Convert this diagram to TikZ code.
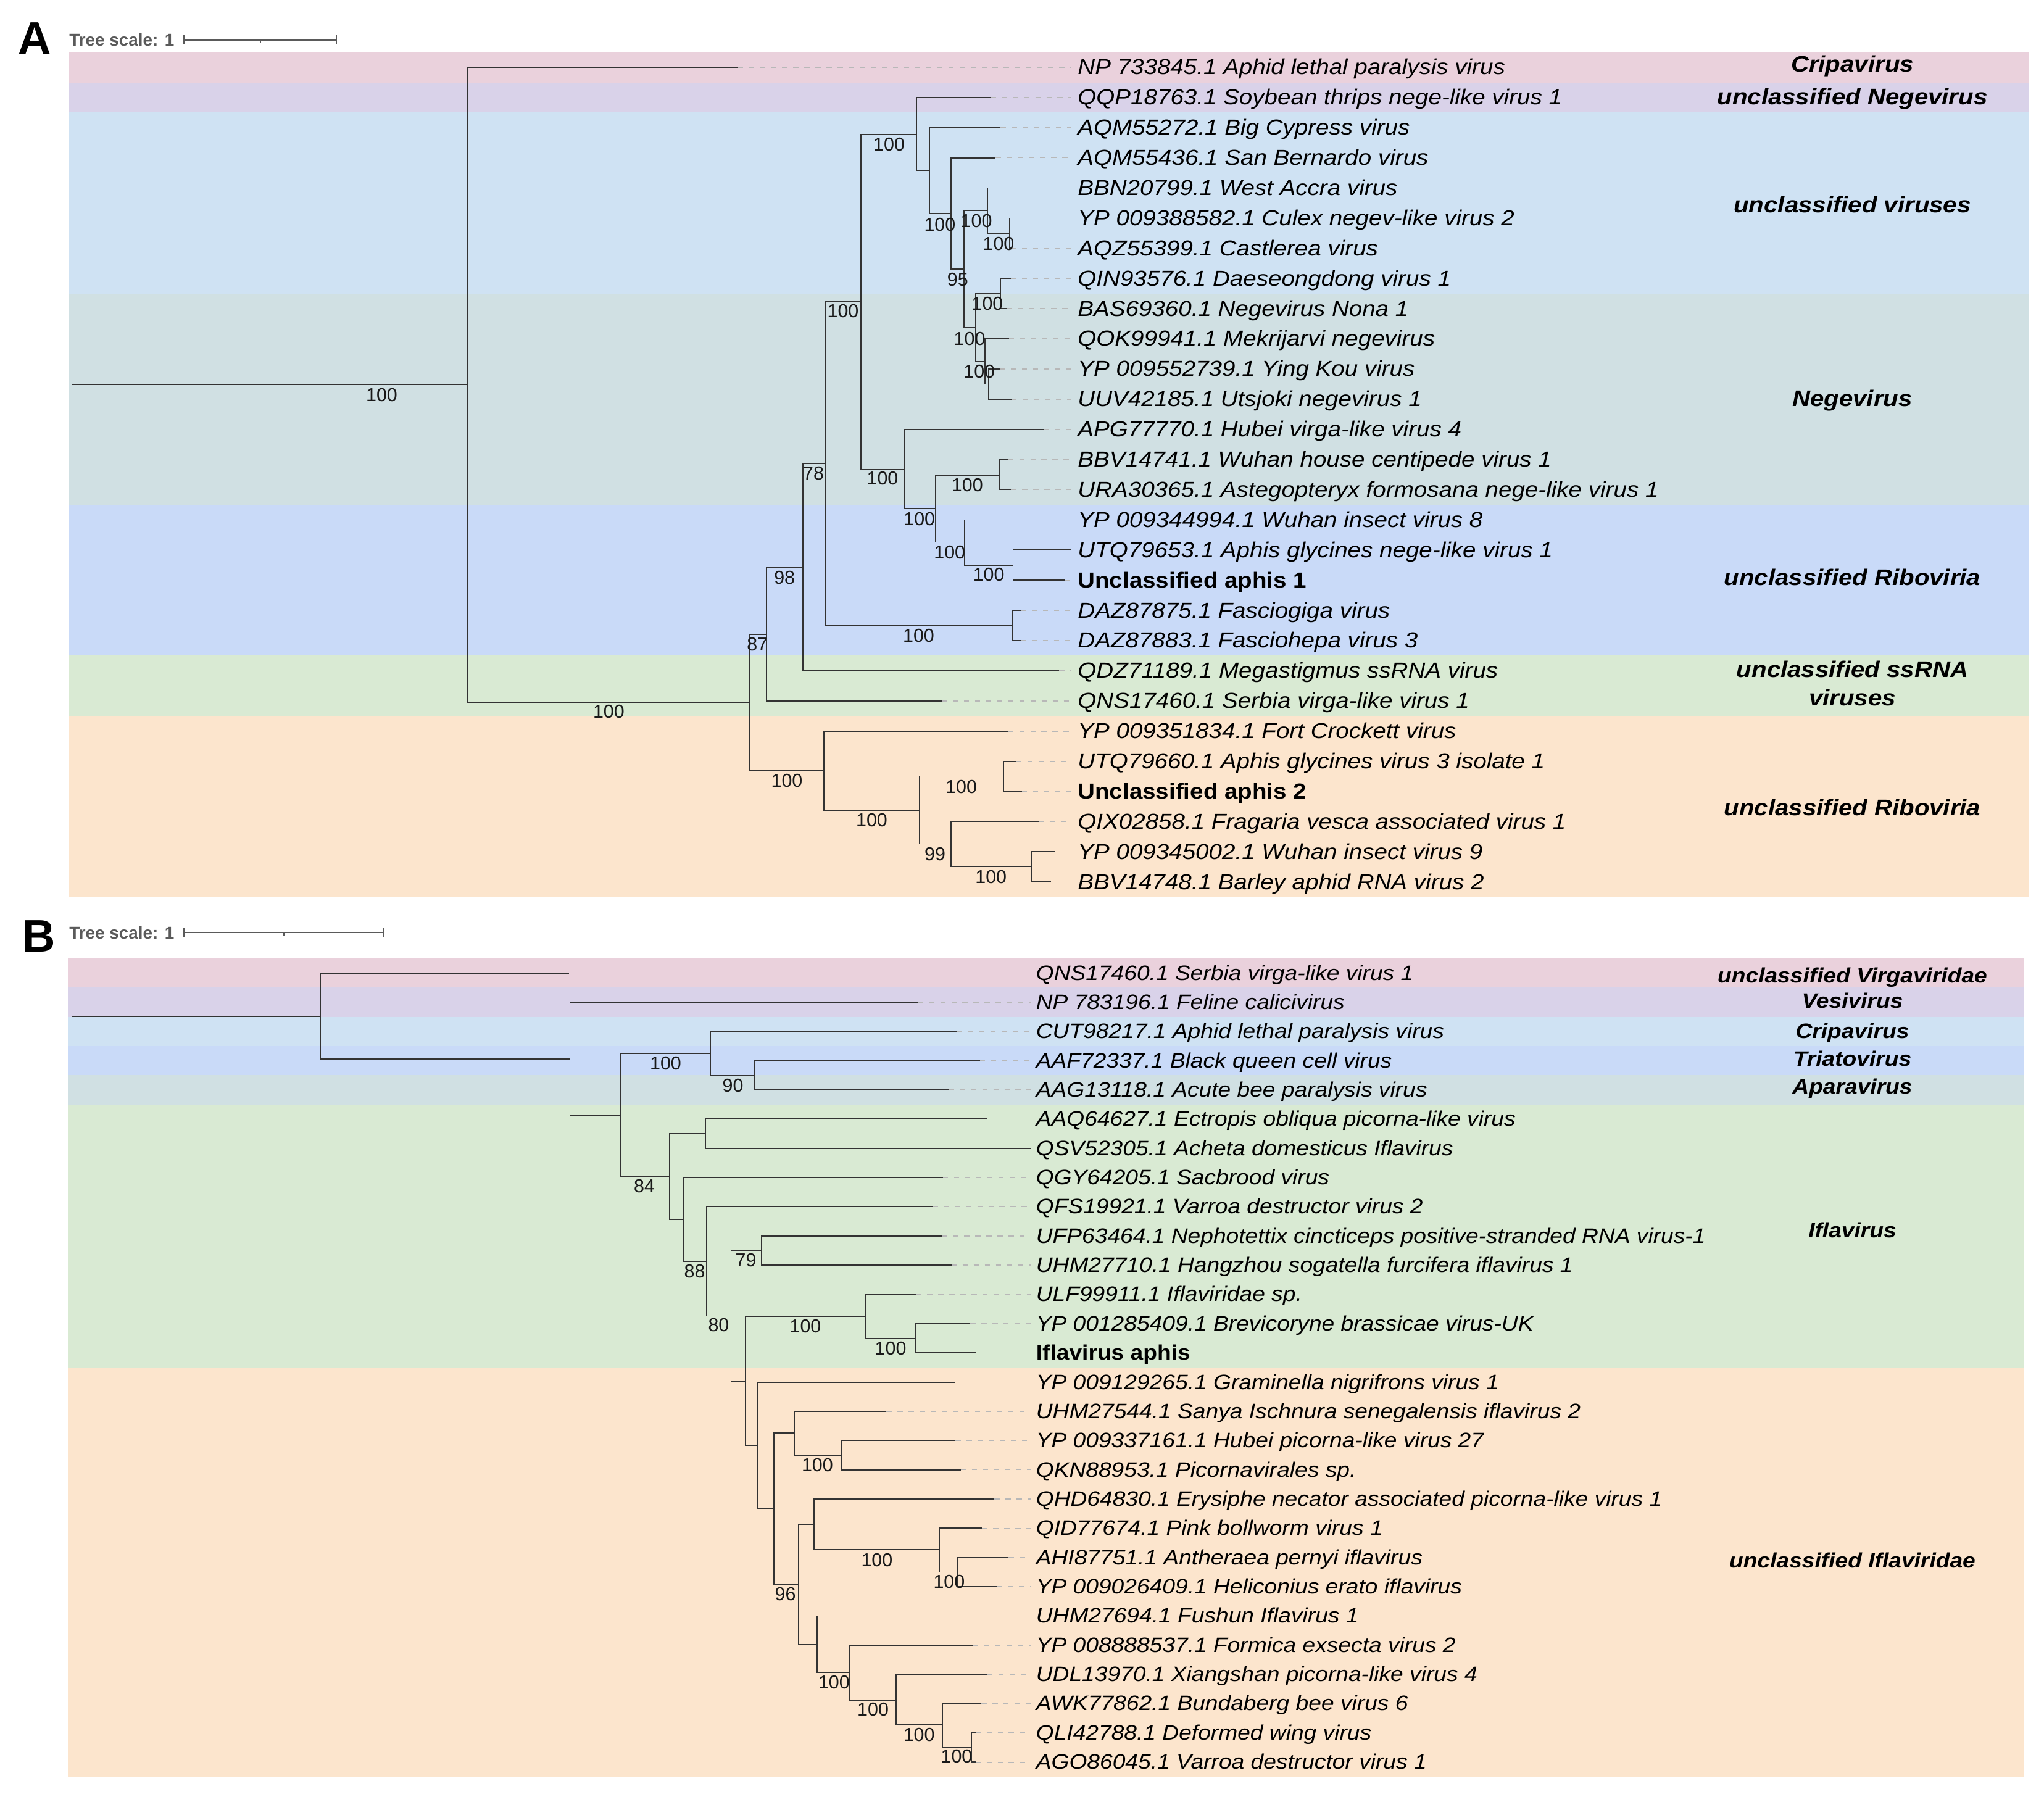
\documentclass[tikz,border=0pt]{standalone}
\usepackage{fontspec}
\setmainfont{Liberation Sans}
\newfontfamily\stretchfont[FakeStretch=1.1]{Liberation Sans}
\definecolor{bPink}{HTML}{EAD1DC}
\definecolor{bLav}{HTML}{D9D2E9}
\definecolor{bLBlue}{HTML}{CFE2F3}
\definecolor{bCyan}{HTML}{D0E0E3}
\definecolor{bCorn}{HTML}{C9DAF8}
\definecolor{bGreen}{HTML}{D9EAD3}
\definecolor{bPeach}{HTML}{FCE5CD}
\definecolor{treeline}{HTML}{333333}
\definecolor{leadergray}{HTML}{B8B8B8}
\definecolor{scalegray}{HTML}{5A5A5A}
\tikzset{
  branch/.style={draw=treeline, line width=0.85pt, line join=miter},
  leader/.style={draw=leadergray, line width=0.7pt, dash pattern=on 4pt off 4.5pt},
  leafA/.style={anchor=base west, inner sep=0pt, text=black, font=\stretchfont\itshape\fontsize{16.6}{18}\selectfont},
  leafB/.style={anchor=base west, inner sep=0pt, text=black, font=\stretchfont\itshape\fontsize{16}{18}\selectfont},
  cladeA/.style={anchor=base, inner sep=0pt, text=black, font=\stretchfont\bfseries\itshape\fontsize{17.3}{19}\selectfont},
  cladeB/.style={anchor=base, inner sep=0pt, text=black, font=\stretchfont\bfseries\itshape\fontsize{16}{18}\selectfont},
  boot/.style={anchor=center, inner sep=0pt, text=black!90, font=\fontsize{14.4}{16}\selectfont},
  panel/.style={anchor=center, inner sep=0pt, font=\bfseries\fontsize{35}{38}\selectfont},
  scaletext/.style={anchor=west, inner sep=0pt, text=scalegray, font=\bfseries\fontsize{13.2}{15}\selectfont},
  scalebar/.style={draw=scalegray, line width=0.9pt}
}
\begin{document}
\begin{tikzpicture}[x=1pt,y=-1pt]
\useasboundingbox (0,0) rectangle (1568,1382);
\fill[white] (0,0) rectangle (1568,1382);

% ================= PANEL A =================
\node[panel] (labA) at (26.5,29.5) {A};
\node[scaletext] (tsA) at (53,30.6) {Tree scale: 1};
\coordinate (sbA1) at (141,30.6);
\coordinate (sbA2) at (258,30.6);
\coordinate (sbAm) at (200,30.6);
\draw[scalebar] (sbA1) -- (sbA2);
\draw[scalebar] ([yshift=-3.4pt]sbA1) -- ([yshift=3.4pt]sbA1);
\draw[scalebar] ([yshift=-3.4pt]sbA2) -- ([yshift=3.4pt]sbA2);
\draw[scalebar] (sbAm) -- ([yshift=-2.2pt]sbAm);

% bands A
\fill[bPink]  (53,40.0)  rectangle (1556,63.2);
\fill[bLav]   (53,63.2)  rectangle (1556,86.3);
\fill[bLBlue] (53,86.3)  rectangle (1556,225.2);
\fill[bCyan]  (53,225.2) rectangle (1556,387.3);
\fill[bCorn]  (53,387.3) rectangle (1556,503.0);
\fill[bGreen] (53,503.0) rectangle (1556,549.3);
\fill[bPeach] (53,549.3) rectangle (1556,688.3);

% clade labels A
\node[cladeA] (cA1) at (1421,55.1) {Cripavirus};
\node[cladeA] (cA2) at (1421,80.4) {unclassified Negevirus};
\node[cladeA] (cA3) at (1421,162.9) {unclassified viruses};
\node[cladeA] (cA4) at (1421,311.9) {Negevirus};
\node[cladeA] (cA5) at (1421,448.9) {unclassified Riboviria};
\node[cladeA] (cA6) at (1421,519.4) {unclassified ssRNA};
\node[cladeA] (cA6b) at (1421,541.2) {viruses};
\node[cladeA] (cA7) at (1421,625.8) {unclassified Riboviria};

% leaves A
\foreach \i/\tx/\lab in {
 1/566/{NP 733845.1 Aphid lethal paralysis virus},
 2/760.2/{QQP18763.1 Soybean thrips nege-like virus 1},
 3/767.6/{AQM55272.1 Big Cypress virus},
 4/763.8/{AQM55436.1 San Bernardo virus},
 5/779/{BBN20799.1 West Accra virus},
 6/775.5/{YP 009388582.1 Culex negev-like virus 2},
 7/775.5/{AQZ55399.1 Castlerea virus},
 8/775.5/{QIN93576.1 Daeseongdong virus 1},
 9/772.3/{BAS69360.1 Negevirus Nona 1},
 10/774/{QOK99941.1 Mekrijarvi negevirus},
 11/767/{YP 009552739.1 Ying Kou virus},
 12/775.9/{UUV42185.1 Utsjoki negevirus 1},
 13/800.8/{APG77770.1 Hubei virga-like virus 4},
 14/773.4/{BBV14741.1 Wuhan house centipede virus 1},
 15/775.7/{URA30365.1 Astegopteryx formosana nege-like virus 1},
 16/791.3/{YP 009344994.1 Wuhan insect virus 8},
 17/822/{UTQ79653.1 Aphis glycines nege-like virus 1},
 18/816.7/{\upshape\bfseries Unclassified aphis 1},
 19/782.9/{DAZ87875.1 Fasciogiga virus},
 20/782.9/{DAZ87883.1 Fasciohepa virus 3},
 21/812.5/{QDZ71189.1 Megastigmus ssRNA virus},
 22/722.5/{QNS17460.1 Serbia virga-like virus 1},
 23/773.4/{YP 009351834.1 Fort Crockett virus},
 24/779.7/{UTQ79660.1 Aphis glycines virus 3 isolate 1},
 25/784/{\upshape\bfseries Unclassified aphis 2},
 26/796.6/{QIX02858.1 Fragaria vesca associated virus 1},
 27/808.9/{YP 009345002.1 Wuhan insect virus 9},
 28/806.1/{BBV14748.1 Barley aphid RNA virus 2}}
{
 \pgfmathsetmacro\yy{51.6+(\i-1)*23.15}
 \coordinate (tA\i) at (\tx,\yy);
 \coordinate (eA\i) at (822,\yy);
 \node[leafA] (lA\i) at (826.6,\yy+5.6) {\lab};
 \draw[leader] (tA\i) -- (eA\i);
}

% internal nodes A
\coordinate (aS) at (54.8,295.1);
\coordinate (aR) at (358.7,295.1);
\coordinate (a87) at (574.7,538.9);
\coordinate (a98) at (588,486.6);
\coordinate (a78) at (616,435);
\coordinate (aA) at (632.8,355.6);
\coordinate (aFas) at (776.5,479.9);
\coordinate (aB) at (660.3,231.3);
\coordinate (aC) at (703,103);
\coordinate (aE) at (713.1,130.9);
\coordinate (aF) at (729.6,163.8);
\coordinate (aG) at (739.5,206.4);
\coordinate (aH) at (757.5,161.4);
\coordinate (aJ) at (774.4,179);
\coordinate (aI) at (748.4,251.4);
\coordinate (aK) at (767.5,225.4);
\coordinate (aL) at (755.4,277.3);
\coordinate (aM) at (758.5,294.7);
\coordinate (aD) at (693.4,360.1);
\coordinate (aN) at (717.8,390);
\coordinate (aO) at (766.5,364.7);
\coordinate (aP) at (740,415.9);
\coordinate (aQ) at (777.1,433.5);
\coordinate (aV) at (632,591.2);
\coordinate (aW) at (705.3,621.7);
\coordinate (aX) at (769.8,595.3);
\coordinate (aT) at (729.4,647.4);
\coordinate (aU) at (791.3,664.6);

\draw[branch] (aS) -- (aR);
\draw[branch] (aR) |- (tA1);  \draw[branch] (aR) |- (a87);
\draw[branch] (a87) |- (a98); \draw[branch] (a87) |- (aV);
\draw[branch] (a98) |- (a78); \draw[branch] (a98) |- (tA22);
\draw[branch] (a78) |- (aA);  \draw[branch] (a78) |- (tA21);
\draw[branch] (aA) |- (aB);   \draw[branch] (aA) |- (aFas);
\draw[branch] (aFas) |- (tA19); \draw[branch] (aFas) |- (tA20);
\draw[branch] (aB) |- (aC);   \draw[branch] (aB) |- (aD);
\draw[branch] (aC) |- (tA2);  \draw[branch] (aC) |- (aE);
\draw[branch] (aE) |- (tA3);  \draw[branch] (aE) |- (aF);
\draw[branch] (aF) |- (tA4);  \draw[branch] (aF) |- (aG);
\draw[branch] (aG) |- (aH);   \draw[branch] (aG) |- (aI);
\draw[branch] (aH) |- (tA5);  \draw[branch] (aH) |- (aJ);
\draw[branch] (aJ) |- (tA6);  \draw[branch] (aJ) |- (tA7);
\draw[branch] (aI) |- (aK);   \draw[branch] (aI) |- (aL);
\draw[branch] (aK) |- (tA8);  \draw[branch] (aK) |- (tA9);
\draw[branch] (aL) |- (tA10); \draw[branch] (aL) |- (aM);
\draw[branch] (aM) |- (tA11); \draw[branch] (aM) |- (tA12);
\draw[branch] (aD) |- (tA13); \draw[branch] (aD) |- (aN);
\draw[branch] (aN) |- (aO);   \draw[branch] (aN) |- (aP);
\draw[branch] (aO) |- (tA14); \draw[branch] (aO) |- (tA15);
\draw[branch] (aP) |- (tA16); \draw[branch] (aP) |- (aQ);
\draw[branch] (aQ) |- (tA17); \draw[branch] (aQ) |- (tA18);
\draw[branch] (aV) |- (tA23); \draw[branch] (aV) |- (aW);
\draw[branch] (aW) |- (aX);   \draw[branch] (aW) |- (aT);
\draw[branch] (aX) |- (tA24); \draw[branch] (aX) |- (tA25);
\draw[branch] (aT) |- (tA26); \draw[branch] (aT) |- (aU);
\draw[branch] (aU) |- (tA27); \draw[branch] (aU) |- (tA28);

% bootstrap A
\node[boot] (bsA1) at (292.8,303) {100};
\node[boot] (bsA2) at (467,546) {100};
\node[boot] (bsA3) at (581,494.4) {87};
\node[boot] (bsA4) at (601.8,443) {98};
\node[boot] (bsA5) at (624,363) {78};
\node[boot] (bsA6) at (646.7,238.7) {100};
\node[boot] (bsA7) at (682,110.8) {100};
\node[boot] (bsA8) at (721,172.4) {100};
\node[boot] (bsA9) at (734.7,214.4) {95};
\node[boot] (bsA10) at (749,169.3) {100};
\node[boot] (bsA11) at (766,186.9) {100};
\node[boot] (bsA12) at (743.8,259.8) {100};
\node[boot] (bsA13) at (757.5,232.7) {100};
\node[boot] (bsA14) at (751.2,285.2) {100};
\node[boot] (bsA15) at (677,367) {100};
\node[boot] (bsA16) at (705.3,398) {100};
\node[boot] (bsA17) at (742,372) {100};
\node[boot] (bsA18) at (728.5,423.9) {100};
\node[boot] (bsA19) at (758.5,441) {100};
\node[boot] (bsA20) at (704.7,487.5) {100};
\node[boot] (bsA21) at (603.6,598.8) {100};
\node[boot] (bsA22) at (668.7,629) {100};
\node[boot] (bsA23) at (737.4,603.4) {100};
\node[boot] (bsA24) at (717.3,655) {99};
\node[boot] (bsA25) at (760.2,672.7) {100};

% ================= PANEL B =================
\node[panel] (labB) at (30,718) {B};
\node[scaletext] (tsB) at (53,715.6) {Tree scale: 1};
\coordinate (sbB1) at (141,715.4);
\coordinate (sbB2) at (294.6,715.4);
\coordinate (sbBm) at (217.8,715.4);
\draw[scalebar] (sbB1) -- (sbB2);
\draw[scalebar] ([yshift=-3.4pt]sbB1) -- ([yshift=3.4pt]sbB1);
\draw[scalebar] ([yshift=-3.4pt]sbB2) -- ([yshift=3.4pt]sbB2);
\draw[scalebar] (sbBm) -- ([yshift=-2.2pt]sbBm);

% bands B
\fill[bPink]  (52,735.2)  rectangle (1553,757.6);
\fill[bLav]   (52,757.6)  rectangle (1553,780.0);
\fill[bLBlue] (52,780.0)  rectangle (1553,802.4);
\fill[bCorn]  (52,802.4)  rectangle (1553,824.9);
\fill[bCyan]  (52,824.9)  rectangle (1553,847.3);
\fill[bGreen] (52,847.3)  rectangle (1553,1049.1);
\fill[bPeach] (52,1049.1) rectangle (1553,1362.9);

% clade labels B
\node[cladeB] (cB1) at (1421,753.8) {unclassified Virgaviridae};
\node[cladeB] (cB2) at (1421,773.1) {Vesivirus};
\node[cladeB] (cB3) at (1421,796.3) {Cripavirus};
\node[cladeB] (cB4) at (1421,817.6) {Triatovirus};
\node[cladeB] (cB5) at (1421,839.0) {Aparavirus};
\node[cladeB] (cB6) at (1421,949.3) {Iflavirus};
\node[cladeB] (cB7) at (1421,1202.7) {unclassified Iflaviridae};

% leaves B
\foreach \i/\tx/\lab in {
 1/436.7/{QNS17460.1 Serbia virga-like virus 1},
 2/704.3/{NP 783196.1 Feline calicivirus},
 3/734.3/{CUT98217.1 Aphid lethal paralysis virus},
 4/751.6/{AAF72337.1 Black queen cell virus},
 5/728/{AAG13118.1 Acute bee paralysis virus},
 6/757/{AAQ64627.1 Ectropis obliqua picorna-like virus},
 7/791.3/{QSV52305.1 Acheta domesticus Iflavirus},
 8/723.4/{QGY64205.1 Sacbrood virus},
 9/715.7/{QFS19921.1 Varroa destructor virus 2},
 10/722.6/{UFP63464.1 Nephotettix cincticeps positive-stranded RNA virus-1},
 11/729.9/{UHM27710.1 Hangzhou sogatella furcifera iflavirus 1},
 12/702.7/{ULF99911.1 Iflaviridae sp.},
 13/744.3/{YP 001285409.1 Brevicoryne brassicae virus-UK},
 14/748.4/{\upshape\bfseries Iflavirus aphis},
 15/733/{YP 009129265.1 Graminella nigrifrons virus 1},
 16/680/{UHM27544.1 Sanya Ischnura senegalensis iflavirus 2},
 17/733/{YP 009337161.1 Hubei picorna-like virus 27},
 18/737/{QKN88953.1 Picornavirales sp.},
 19/762.9/{QHD64830.1 Erysiphe necator associated picorna-like virus 1},
 20/753.4/{QID77674.1 Pink bollworm virus 1},
 21/773.7/{AHI87751.1 Antheraea pernyi iflavirus},
 22/764.8/{YP 009026409.1 Heliconius erato iflavirus},
 23/775.1/{UHM27694.1 Fushun Iflavirus 1},
 24/746.6/{YP 008888537.1 Formica exsecta virus 2},
 25/757.4/{UDL13970.1 Xiangshan picorna-like virus 4},
 26/752.8/{AWK77862.1 Bundaberg bee virus 6},
 27/748.3/{QLI42788.1 Deformed wing virus},
 28/748.3/{AGO86045.1 Varroa destructor virus 1}}
{
 \pgfmathsetmacro\yy{746.4+(\i-1)*22.42}
 \coordinate (tB\i) at (\tx,\yy);
 \coordinate (eB\i) at (791,\yy);
 \node[leafB] (lB\i) at (794.6,\yy+5.4) {\lab};
 \draw[leader] (tB\i) -- (eB\i);
}

% internal nodes B
\coordinate (bS) at (54.8,779.6);
\coordinate (bR) at (245.8,779.6);
\coordinate (m2) at (437.2,812.4);
\coordinate (m3) at (475.8,855.5);
\coordinate (m4) at (545.1,808.4);
\coordinate (m5) at (579,824.9);
\coordinate (m6) at (513.8,902.9);
\coordinate (m7) at (541.3,869.7);
\coordinate (m8) at (524.1,935.6);
\coordinate (m9) at (541.8,967.5);
\coordinate (m10) at (560.8,1009.6);
\coordinate (m11) at (584,959.4);
\coordinate (m12) at (571.8,1059.5);
\coordinate (m26) at (663.6,1009.8);
\coordinate (m27) at (702.7,1026.7);
\coordinate (m13) at (580.8,1109);
\coordinate (m14) at (593.6,1157.1);
\coordinate (m15) at (609.3,1099.1);
\coordinate (m16) at (645.2,1116.3);
\coordinate (m17) at (612.6,1215.5);
\coordinate (m18) at (624.3,1169.2);
\coordinate (m19) at (720.8,1188.8);
\coordinate (m20) at (734.9,1206);
\coordinate (m21) at (627,1261.5);
\coordinate (m22) at (652,1283);
\coordinate (m23) at (687.3,1304.1);
\coordinate (m24) at (723,1323.1);
\coordinate (m25) at (745.2,1340.5);

\draw[branch] (bS) -- (bR);
\draw[branch] (bR) |- (tB1);  \draw[branch] (bR) |- (m2);
\draw[branch] (m2) |- (tB2);  \draw[branch] (m2) |- (m3);
\draw[branch] (m3) |- (m4);   \draw[branch] (m3) |- (m6);
\draw[branch] (m4) |- (tB3);  \draw[branch] (m4) |- (m5);
\draw[branch] (m5) |- (tB4);  \draw[branch] (m5) |- (tB5);
\draw[branch] (m6) |- (m7);   \draw[branch] (m6) |- (m8);
\draw[branch] (m7) |- (tB6);  \draw[branch] (m7) |- (tB7);
\draw[branch] (m8) |- (tB8);  \draw[branch] (m8) |- (m9);
\draw[branch] (m9) |- (tB9);  \draw[branch] (m9) |- (m10);
\draw[branch] (m10) |- (m11); \draw[branch] (m10) |- (m12);
\draw[branch] (m11) |- (tB10); \draw[branch] (m11) |- (tB11);
\draw[branch] (m12) |- (m26); \draw[branch] (m12) |- (m13);
\draw[branch] (m26) |- (tB12); \draw[branch] (m26) |- (m27);
\draw[branch] (m27) |- (tB13); \draw[branch] (m27) |- (tB14);
\draw[branch] (m13) |- (tB15); \draw[branch] (m13) |- (m14);
\draw[branch] (m14) |- (m15); \draw[branch] (m14) |- (m17);
\draw[branch] (m15) |- (tB16); \draw[branch] (m15) |- (m16);
\draw[branch] (m16) |- (tB17); \draw[branch] (m16) |- (tB18);
\draw[branch] (m17) |- (m18); \draw[branch] (m17) |- (m21);
\draw[branch] (m18) |- (tB19); \draw[branch] (m18) |- (m19);
\draw[branch] (m19) |- (tB20); \draw[branch] (m19) |- (m20);
\draw[branch] (m20) |- (tB21); \draw[branch] (m20) |- (tB22);
\draw[branch] (m21) |- (tB23); \draw[branch] (m21) |- (m22);
\draw[branch] (m22) |- (tB24); \draw[branch] (m22) |- (m23);
\draw[branch] (m23) |- (tB25); \draw[branch] (m23) |- (m24);
\draw[branch] (m24) |- (tB26); \draw[branch] (m24) |- (m25);
\draw[branch] (m25) |- (tB27); \draw[branch] (m25) |- (tB28);

% bootstrap B
\node[boot] (bsB1) at (510.6,815.8) {100};
\node[boot] (bsB2) at (562.2,832.7) {90};
\node[boot] (bsB3) at (494.3,909.8) {84};
\node[boot] (bsB4) at (532.9,975.3) {88};
\node[boot] (bsB5) at (572.2,966.9) {79};
\node[boot] (bsB6) at (551.3,1016.5) {80};
\node[boot] (bsB7) at (617.8,1017.6) {100};
\node[boot] (bsB8) at (683.2,1034.5) {100};
\node[boot] (bsB9) at (627,1123.8) {100};
\node[boot] (bsB10) at (602.5,1223) {96};
\node[boot] (bsB11) at (672.7,1196.6) {100};
\node[boot] (bsB12) at (728.1,1213.4) {100};
\node[boot] (bsB13) at (639.8,1290.4) {100};
\node[boot] (bsB14) at (669.7,1311.5) {100};
\node[boot] (bsB15) at (705,1330.9) {100};
\node[boot] (bsB16) at (733.8,1347.4) {100};
\end{tikzpicture}
\end{document}
